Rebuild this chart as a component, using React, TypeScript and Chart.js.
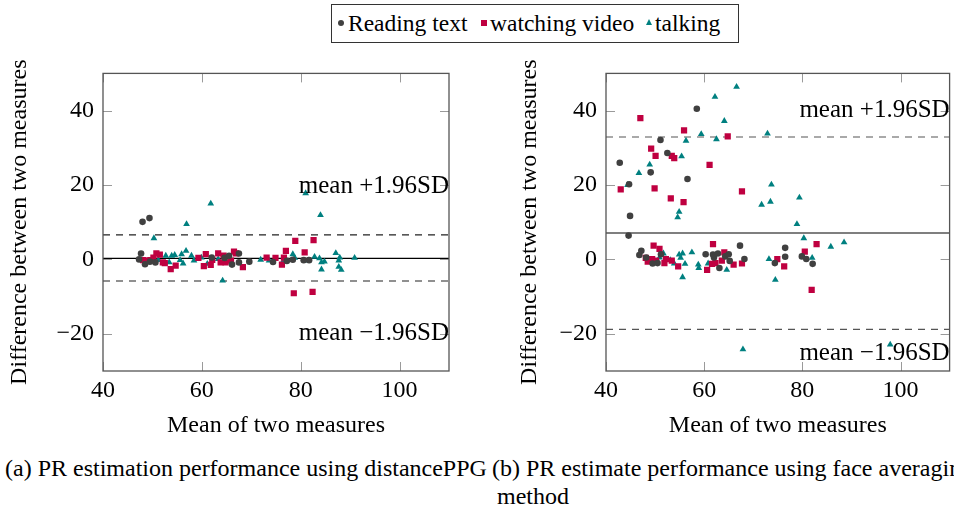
import React, { useEffect, useRef } from 'react';
import { Chart, registerables } from 'chart.js';

Chart.register(...registerables);

const FONT = '"Liberation Serif", "Times New Roman", serif';

// ---------- shared ----------
const seriesNames = ['Reading text', 'watching video', 'talking'];
const seriesColors = ['#404040', '#bf0040', '#008080'];
const seriesShapes = ['circle', 'rect', 'triangle'];
const seriesRadius = [3.3, 4.4, 3.9];
const xTicks = [40, 60, 80, 100];
const yTicks = [-20, 0, 20, 40];
const xRange = [40, 110];
const yRange = [-30, 50];
const xTitle = 'Mean of two measures';
const yTitle = 'Difference between two measures';
const bandTexts = ['mean +1.96SD', 'mean \u22121.96SD'];

// ---------- panel (a): distancePPG ----------
const readingAx = [47.3, 47.7, 48.5, 49.5, 50.6, 48.0, 49.4, 62.0, 64.6, 65.5, 66.1, 67.5, 67.5, 69.6, 74.4, 77.2, 78.4, 80.6, 81.7];
const readingAy = [0.0, 1.6, -1.3, -0.6, -0.8, 10.1, 11.1, 0.5, 0.4, 1.0, -1.4, 1.6, -0.8, -0.6, -0.7, -0.4, -0.1, -0.2, -0.2];
const videoAx = [48.1, 48.8, 49.6, 50.2, 50.8, 51.5, 52.1, 52.5, 53.7, 54.7, 59.3, 60.4, 60.8, 61.8, 62.1, 63.3, 63.8, 64.4, 64.8, 65.9, 66.5, 66.9, 68.3, 73.1, 74.9, 76.2, 76.6, 77.0, 78.6, 78.9, 80.8, 82.4, 82.6];
const videoAy = [-0.2, -0.3, -0.2, 0.5, 1.6, 1.3, -0.8, -1.0, -2.6, -1.7, 0.4, -1.8, 1.4, -1.5, -0.1, 1.6, -0.8, 1.0, -0.8, -0.3, 2.1, 1.6, -2.1, 0.5, 0.4, -1.4, 0.5, 2.3, -9.1, 5.0, 1.9, -8.7, 5.2];
const talkingAx = [50.3, 51.2, 52.7, 53.4, 53.9, 54.5, 55.6, 55.9, 56.2, 56.8, 56.9, 57.9, 58.4, 59.9, 61.1, 61.8, 63.3, 64.2, 71.9, 73.6, 76.4, 78.4, 78.8, 81.0, 81.5, 82.8, 83.8, 84.0, 84.2, 84.2, 84.8, 87.1, 87.7, 87.9, 87.7, 88.2, 90.9];
const talkingAy = [5.7, -0.2, 1.0, -0.8, 1.0, 1.2, -0.2, 1.4, -1.1, 2.3, 9.5, 1.0, -0.3, 0.5, -1.2, 15.0, 0.1, -5.7, -0.1, -0.3, -0.6, 1.4, 0.4, 17.8, -0.3, 0.7, 0.3, 11.9, -0.8, -2.7, -0.6, 1.7, -0.3, 0.5, -2.0, -2.8, 0.4];
const meanA = 0.3;
const upperA = 6.6;
const lowerA = -5.8;
const bandLabelYA = [19.7, -20];

// ---------- panel (b): face averaging ----------
const readingBx = [42.8, 44.7, 44.9, 44.6, 46.8, 47.2, 48.2, 49.1, 49.5, 50.5, 51.1, 51.2, 52.5, 56.6, 58.5, 60.3, 61.8, 62.0, 62.8, 63.1, 64.3, 65.0, 65.2, 67.3, 68.2, 74.4, 76.5, 76.5, 79.9, 80.8, 82.1];
const readingBy = [26.0, 20.2, 11.7, 6.4, 1.2, 2.3, 0.5, 23.4, -1.1, -1.0, 32.1, 1.4, 28.6, 21.6, 40.5, 1.4, 1.3, 0.5, 1.6, -2.3, 0.8, 1.4, -0.4, 3.7, 0.1, -1.0, 3.1, 0.7, 0.8, 0.1, -1.2];
const videoBx = [43.0, 47.0, 48.1, 48.5, 49.2, 49.4, 49.7, 49.9, 50.1, 50.2, 50.9, 51.9, 52.2, 53.2, 53.4, 53.4, 53.9, 54.7, 55.8, 55.9, 60.6, 61.1, 61.8, 61.6, 62.3, 63.6, 64.1, 64.8, 66.0, 67.7, 67.7, 74.9, 76.3, 80.5, 81.9, 82.9];
const videoBy = [18.8, 38.0, 0.4, -0.6, 29.8, 0.1, 3.7, 19.1, 27.8, -0.3, 2.8, -1.0, 0.1, 16.4, 27.8, -0.3, 27.2, -1.9, 15.4, 34.7, -2.8, 25.4, 4.1, -1.2, -1.0, -0.3, 1.9, 33.1, -1.4, 18.3, -1.1, 0.1, -1.9, 2.1, -8.2, 4.1];
const talkingBx = [44.4, 46.7, 48.9, 50.9, 51.7, 53.1, 53.9, 54.6, 54.9, 54.9, 55.2, 55.4, 55.6, 55.6, 56.1, 56.3, 57.5, 58.8, 58.9, 59.4, 60.8, 62.2, 62.5, 64.1, 64.6, 66.6, 67.9, 71.7, 72.9, 73.2, 73.5, 73.7, 74.5, 78.9, 79.4, 80.3, 82.0, 85.8, 88.5, 97.9];
const talkingBy = [20.0, 23.2, 25.5, 0.5, 1.6, -0.2, -1.1, 11.3, 12.8, 1.3, 0.4, 27.7, 1.6, -4.8, -1.2, 31.9, 1.9, -1.4, -2.3, 33.7, -1.1, 43.7, 32.3, 37.2, -2.8, 46.4, -24.2, 14.7, 33.8, 0.1, 15.5, 20.1, -5.5, 9.5, 16.6, 5.7, 0.4, 3.4, 4.6, -22.9];
const meanB = 7.1;
const upperB = 32.9;
const lowerB = -18.8;
const bandLabelYB = [40, -25.3];

const pts = (xs: number[], ys: number[]) => xs.map((x, i) => ({ x, y: ys[i] }));

const framePlugin = {
  id: 'frameLabels',
  afterDatasetsDraw(chart: any, _args: any, opts: any) {
    const { ctx, chartArea: a, scales } = chart;
    const xs = scales.x;
    const ys = scales.y;
    ctx.save();
    // inner tick marks
    ctx.strokeStyle = '#9a9a9a';
    ctx.lineWidth = 1;
    const tl = 9;
    ctx.beginPath();
    xTicks.forEach((v) => {
      const px = Math.round(xs.getPixelForValue(v)) + 0.5;
      ctx.moveTo(px, a.bottom);
      ctx.lineTo(px, a.bottom - tl);
      ctx.moveTo(px, a.top);
      ctx.lineTo(px, a.top + tl);
    });
    yTicks.forEach((v) => {
      const py = Math.round(ys.getPixelForValue(v)) + 0.5;
      ctx.moveTo(a.left, py);
      ctx.lineTo(a.left + tl, py);
      ctx.moveTo(a.right, py);
      ctx.lineTo(a.right - tl, py);
    });
    ctx.stroke();
    // frame
    ctx.strokeStyle = '#555';
    ctx.lineWidth = 1.3;
    ctx.strokeRect(a.left, a.top, a.right - a.left, a.bottom - a.top);
    // band labels
    ctx.fillStyle = '#000';
    ctx.font = `25px ${FONT}`;
    ctx.textAlign = 'right';
    ctx.textBaseline = 'middle';
    (opts.texts as string[]).forEach((t, i) => {
      ctx.fillText(t, a.right, ys.getPixelForValue(opts.ys[i]));
    });
    ctx.restore();
  },
};

type PanelProps = {
  left: number;
  width: number;
  yAxisWidth: number;
  yTitlePad: number;
  padRight: number;
  readX: number[]; readY: number[];
  vidX: number[]; vidY: number[];
  talkX: number[]; talkY: number[];
  mean: number; upper: number; lower: number;
  labelYs: number[];
  dashColor: string;
};

function Panel(p: PanelProps) {
  const ref = useRef<HTMLCanvasElement>(null);
  useEffect(() => {
    const font = { family: FONT, size: 24 };
    const series = [pts(p.readX, p.readY), pts(p.vidX, p.vidY), pts(p.talkX, p.talkY)];
    const scatterSets = series.map((d, i) => ({
      label: seriesNames[i],
      data: d,
      pointStyle: seriesShapes[i],
      pointRadius: seriesRadius[i],
      pointBackgroundColor: seriesColors[i],
      pointBorderColor: seriesColors[i],
      pointBorderWidth: 0,
      showLine: false,
    }));
    const lineSet = (v: number, color: string, dash: number[]) => ({
      label: '',
      data: pts(xRange, [v, v]),
      showLine: true,
      borderColor: color,
      borderWidth: 1.2,
      borderDash: dash,
      pointRadius: 0,
    });
    const chart = new Chart(ref.current as HTMLCanvasElement, {
      type: 'scatter',
      data: {
        datasets: [
          ...scatterSets,
          lineSet(p.mean, '#000', []),
          lineSet(p.upper, p.dashColor, [7, 6]),
          lineSet(p.lower, p.dashColor, [7, 6]),
        ] as any,
      },
      options: {
        animation: false,
        responsive: false,
        maintainAspectRatio: false,
        events: [],
        layout: { padding: { top: 23, right: p.padRight, left: 0, bottom: 0 } },
        plugins: {
          legend: { display: false },
          tooltip: { enabled: false },
          frameLabels: { texts: bandTexts, ys: p.labelYs },
        } as any,
        scales: {
          x: {
            type: 'linear',
            min: xRange[0],
            max: xRange[1],
            afterBuildTicks: (s: any) => { s.ticks = xTicks.map((v) => ({ value: v })); },
            afterFit: (s: any) => { s.height = 79; },
            grid: { display: false, drawTicks: false },
            border: { display: false },
            ticks: { padding: 5, color: '#000', font, maxRotation: 0 },
            title: { display: true, text: xTitle, color: '#000', font, padding: { top: 0, bottom: 10 } },
          },
          y: {
            type: 'linear',
            min: yRange[0],
            max: yRange[1],
            afterBuildTicks: (s: any) => { s.ticks = yTicks.map((v) => ({ value: v })); },
            afterFit: (s: any) => { s.width = p.yAxisWidth; },
            grid: { display: false, drawTicks: false },
            border: { display: false },
            ticks: {
              padding: 9, color: '#000', font,
              callback: (v: any) => (Number(v) < 0 ? '\u2212' + Math.abs(Number(v)) : String(v)),
            },
            title: { display: true, text: yTitle, color: '#000', font, padding: { top: p.yTitlePad, bottom: 0 } },
          },
        },
      } as any,
      plugins: [framePlugin as any],
    });
    return () => chart.destroy();
  }, []);
  return (
    <canvas
      ref={ref}
      width={p.width}
      height={400}
      style={{ position: 'absolute', left: p.left, top: 50, width: p.width, height: 400 }}
    />
  );
}

function LegendBox() {
  const markerStyle = (i: number): React.CSSProperties => {
    if (i === 0) return { position: 'absolute', left: 338, top: 20, width: 6, height: 6, borderRadius: 3, background: seriesColors[0] };
    if (i === 1) return { position: 'absolute', left: 481, top: 20, width: 6, height: 6, background: seriesColors[1] };
    return {
      position: 'absolute', left: 646, top: 19, width: 0, height: 0,
      borderLeft: '3.5px solid transparent', borderRight: '3.5px solid transparent',
      borderBottom: `6px solid ${seriesColors[2]}`,
    };
  };
  const textLefts = [348, 490, 655];
  return (
    <>
      <div style={{ position: 'absolute', left: 331, top: 4, width: 406, height: 37, border: '1px solid #333' }} />
      {seriesNames.map((n, i) => (
        <React.Fragment key={n}>
          <div style={markerStyle(i)} />
          <div style={{ position: 'absolute', left: textLefts[i], top: 9, font: `23.5px ${FONT}`, lineHeight: '28px', color: '#000', whiteSpace: 'nowrap' }}>{n}</div>
        </React.Fragment>
      ))}
    </>
  );
}

export default function App() {
  return (
    <div style={{ position: 'absolute', left: 0, top: 0, width: 954, height: 510, overflow: 'hidden', background: '#fff' }}>
      <LegendBox />
      <Panel
        left={0} width={470} yAxisWidth={103} yTitlePad={5} padRight={21}
        readX={readingAx} readY={readingAy} vidX={videoAx} vidY={videoAy} talkX={talkingAx} talkY={talkingAy}
        mean={meanA} upper={upperA} lower={lowerA} labelYs={bandLabelYA} dashColor="#222"
      />
      <Panel
        left={490} width={464} yAxisWidth={116} yTitlePad={25} padRight={3}
        readX={readingBx} readY={readingBy} vidX={videoBx} vidY={videoBy} talkX={talkingBx} talkY={talkingBy}
        mean={meanB} upper={upperB} lower={lowerB} labelYs={bandLabelYB} dashColor="#555"
      />
      <div style={{ position: 'absolute', left: 5, top: 454, font: `24px ${FONT}`, lineHeight: '28px', color: '#000', whiteSpace: 'nowrap' }}>
        (a) PR estimation performance using distancePPG
      </div>
      <div style={{ position: 'absolute', left: 492, top: 454, font: `24px ${FONT}`, lineHeight: '28px', color: '#000', whiteSpace: 'nowrap' }}>
        (b) PR estimate performance using face averaging
      </div>
      <div style={{ position: 'absolute', left: 497, top: 482, font: `24px ${FONT}`, lineHeight: '28px', color: '#000', whiteSpace: 'nowrap' }}>
        method
      </div>
    </div>
  );
}
